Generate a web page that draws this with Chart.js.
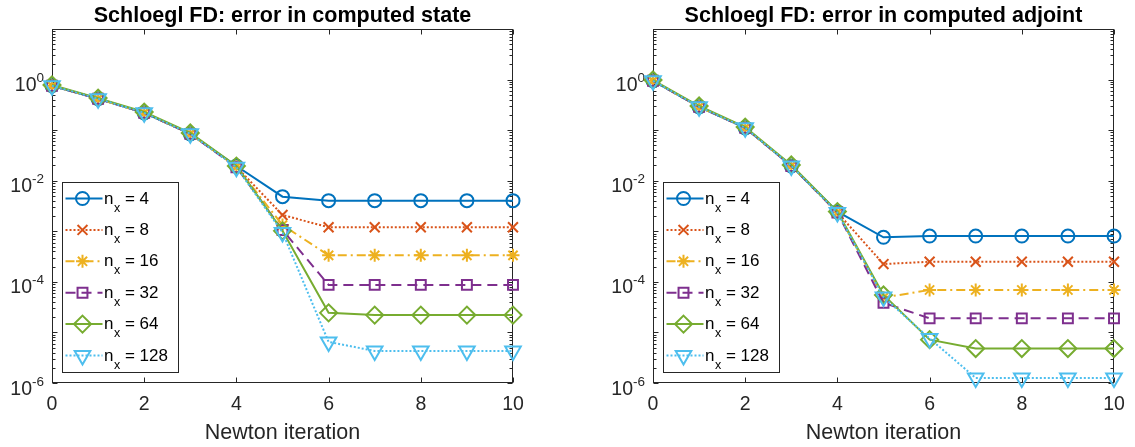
<!DOCTYPE html>
<html>
<head>
<meta charset="utf-8">
<script src="https://cdn.jsdelivr.net/npm/chart.js@4.4.1/dist/chart.umd.min.js"></script>
<style>
  body { margin: 0; background: #fff; }
  #wrap { position: relative; width: 1135px; height: 447px; }
  canvas { position: absolute; top: 0; }
  #stateChart { left: 0; }
  #adjointChart { left: 580px; }
</style>
</head>
<body>
<div id="wrap">
  <canvas id="stateChart" width="580" height="447"></canvas>
  <canvas id="adjointChart" width="555" height="447"></canvas>
</div>
<script>
const iterations = [0, 1, 2, 3, 4, 5, 6, 7, 8, 9, 10];
const gridSizes = ['4', '8', '16', '32', '64', '128'];
const xTicks = [0, 2, 4, 6, 8, 10];
const yTickExponents = [-6, -4, -2, 0];

// error in computed state, one array per n_x
const stateNx4 = [0.753, 0.417, 0.22, 0.0845, 0.0195, 0.00484, 0.00403, 0.00403, 0.00403, 0.00403, 0.00403];
const stateNx8 = [0.753, 0.417, 0.22, 0.0845, 0.0188, 0.0021, 0.0012, 0.0012, 0.0012, 0.0012, 0.0012];
const stateNx16 = [0.753, 0.417, 0.22, 0.0845, 0.0188, 0.00133, 3.34e-4, 3.34e-4, 3.34e-4, 3.34e-4, 3.34e-4];
const stateNx32 = [0.753, 0.417, 0.22, 0.0845, 0.0185, 0.00106, 8.7e-5, 8.7e-5, 8.7e-5, 8.7e-5, 8.7e-5];
const stateNx64 = [0.78, 0.43, 0.228, 0.088, 0.0195, 0.00102, 2.44e-5, 2.2e-5, 2.2e-5, 2.2e-5, 2.2e-5];
const stateNx128 = [0.753, 0.417, 0.22, 0.0845, 0.0185, 0.00095, 6.5e-6, 4.3e-6, 4.3e-6, 4.3e-6, 4.3e-6];

// error in computed adjoint
const adjointNx4 = [0.946, 0.289, 0.111, 0.0196, 0.00244, 7.6e-4, 8.05e-4, 8.05e-4, 8.05e-4, 8.05e-4, 8.05e-4];
const adjointNx8 = [0.946, 0.289, 0.111, 0.0196, 0.00235, 2.25e-4, 2.5e-4, 2.5e-4, 2.5e-4, 2.5e-4, 2.5e-4];
const adjointNx16 = [0.946, 0.289, 0.111, 0.0196, 0.00235, 4.9e-5, 6.9e-5, 6.9e-5, 6.9e-5, 6.9e-5, 6.9e-5];
const adjointNx32 = [0.946, 0.289, 0.111, 0.0196, 0.00235, 3.85e-5, 1.9e-5, 1.9e-5, 1.9e-5, 1.9e-5, 1.9e-5];
const adjointNx64 = [0.98, 0.3, 0.115, 0.0205, 0.00245, 5.5e-5, 7.2e-6, 4.8e-6, 4.8e-6, 4.8e-6, 4.8e-6];
const adjointNx128 = [0.946, 0.289, 0.111, 0.0196, 0.00235, 5.0e-5, 7.6e-6, 1.26e-6, 1.26e-6, 1.26e-6, 1.26e-6];

// MATLAB default color order and line/marker specs
const lineColors = ['#0072BD', '#D95319', '#EDB120', '#7E2F8E', '#77AC30', '#4DBEEE'];
const lineDashes = [[], [2, 2], [9, 4, 2, 4], [10, 6], [], [2, 2]];
const markerStyles = ['circle', 'crossRot', 'star', 'rect', 'rectRot', 'triangle'];
const markerRadii = [6.5, 7, 6.5, 7, 8.5, 9];
const markerRotations = [0, 0, 0, 0, 0, 180];

const FONT = '"Liberation Sans", Arial, Helvetica, sans-serif';
const AXIS_COLOR = '#262626';

function buildDatasets(series) {
  return series.map((vals, i) => ({
    label: gridSizes[i],
    data: iterations.map((it, k) => ({ x: it, y: vals[k] })),
    // later series sit on top, like MATLAB's plot order
    order: series.length - i,
    borderColor: lineColors[i],
    borderWidth: 2,
    borderDash: lineDashes[i],
    pointStyle: markerStyles[i],
    pointRadius: markerRadii[i],
    pointRotation: markerRotations[i],
    pointBorderColor: lineColors[i],
    pointBackgroundColor: 'rgba(0,0,0,0)',
    pointBorderWidth: 2,
    tension: 0,
    fill: false,
    clip: false,
  }));
}

// small marker painter for the legend rows (same shapes chart.js uses)
function drawMarker(ctx, style, x, y, r) {
  const d = r * Math.SQRT1_2;
  ctx.beginPath();
  switch (style) {
    case 'circle':
      ctx.arc(x, y, r, 0, Math.PI * 2);
      break;
    case 'crossRot':
      ctx.moveTo(x - d, y - d); ctx.lineTo(x + d, y + d);
      ctx.moveTo(x - d, y + d); ctx.lineTo(x + d, y - d);
      break;
    case 'star':
      ctx.moveTo(x - r, y); ctx.lineTo(x + r, y);
      ctx.moveTo(x, y - r); ctx.lineTo(x, y + r);
      ctx.moveTo(x - d, y - d); ctx.lineTo(x + d, y + d);
      ctx.moveTo(x - d, y + d); ctx.lineTo(x + d, y - d);
      break;
    case 'rect':
      ctx.rect(x - d, y - d, 2 * d, 2 * d);
      break;
    case 'rectRot':
      ctx.moveTo(x, y - r); ctx.lineTo(x + r, y);
      ctx.lineTo(x, y + r); ctx.lineTo(x - r, y);
      ctx.closePath();
      break;
    case 'triangle': // pointing down
      ctx.moveTo(x, y + r);
      ctx.lineTo(x - r * Math.sin(Math.PI / 3), y - r / 2);
      ctx.lineTo(x + r * Math.sin(Math.PI / 3), y - r / 2);
      ctx.closePath();
      break;
  }
  ctx.stroke();
}

const matlabAxes = {
  id: 'matlabAxes',
  beforeDatasetsDraw(chart, args, opts) {
    const { ctx, chartArea: a } = chart;
    const xs = chart.scales.x, ys = chart.scales.y;
    const L = Math.round(a.left) + 0.5, R = Math.round(a.right) - 0.5;
    const T = Math.round(a.top) + 0.5, B = Math.round(a.bottom) - 0.5;

    ctx.save();
    ctx.strokeStyle = AXIS_COLOR;
    ctx.lineWidth = 1;
    ctx.strokeRect(L, T, R - L, B - T);

    ctx.beginPath();
    xTicks.forEach(v => {
      const px = Math.round(xs.getPixelForValue(v)) + 0.5;
      ctx.moveTo(px, B); ctx.lineTo(px, B - 5);
      ctx.moveTo(px, T); ctx.lineTo(px, T + 5);
    });
    // major + minor log ticks on both sides
    for (let e = -6; e <= 1; e++) {
      for (let m = 1; m <= 9; m++) {
        const v = m * Math.pow(10, e);
        if (v > 10.0001) break;
        const py = Math.round(ys.getPixelForValue(v)) + 0.5;
        const len = m === 1 ? 5 : 3;
        ctx.moveTo(L, py); ctx.lineTo(L + len, py);
        ctx.moveTo(R, py); ctx.lineTo(R - len, py);
      }
    }
    ctx.stroke();

    ctx.fillStyle = AXIS_COLOR;
    ctx.textBaseline = 'alphabetic';

    ctx.font = '19.5px ' + FONT;
    ctx.textAlign = 'center';
    xTicks.forEach(v => {
      ctx.fillText(String(v), xs.getPixelForValue(v), a.bottom + 27);
    });

    yTickExponents.forEach(e => {
      const py = ys.getPixelForValue(Math.pow(10, e));
      const expText = String(e);
      ctx.font = '13.5px ' + FONT;
      const expW = ctx.measureText(expText).width;
      const expRight = a.left - 8;
      ctx.textAlign = 'left';
      ctx.fillText(expText, expRight - expW, py + 2.5);
      ctx.font = '19.5px ' + FONT;
      ctx.textAlign = 'right';
      ctx.fillText('10', expRight - expW, py + 11.5);
    });

    const cx = (a.left + a.right) / 2;
    ctx.textAlign = 'center';
    ctx.font = '21.5px ' + FONT;
    ctx.fillText('Newton iteration', cx, 439);

    ctx.fillStyle = '#000';
    ctx.font = 'bold 21.5px ' + FONT;
    ctx.fillText(opts.title, cx, 22);
    ctx.restore();
  },
  afterDraw(chart) {
    const { ctx, chartArea: a } = chart;
    const box = { x: Math.round(a.left) + 10.5, y: 182.5, w: 116, h: 190 };

    ctx.save();
    ctx.fillStyle = '#fff';
    ctx.fillRect(box.x, box.y, box.w, box.h);
    ctx.strokeStyle = AXIS_COLOR;
    ctx.lineWidth = 1;
    ctx.strokeRect(box.x, box.y, box.w, box.h);

    chart.data.datasets.forEach((ds, i) => {
      const rowY = 198.5 + i * 31.4;
      ctx.strokeStyle = ds.borderColor;
      ctx.lineWidth = 2;
      ctx.setLineDash(ds.borderDash);
      ctx.beginPath();
      ctx.moveTo(box.x + 3, rowY);
      ctx.lineTo(box.x + 40, rowY);
      ctx.stroke();
      ctx.setLineDash([]);
      drawMarker(ctx, ds.pointStyle, box.x + 20, rowY, ds.pointRadius);

      ctx.fillStyle = '#000';
      ctx.textAlign = 'left';
      let tx = box.x + 41.5;
      ctx.font = '17px ' + FONT;
      ctx.fillText('n', tx, rowY + 5);
      tx += ctx.measureText('n').width + 0.5;
      ctx.font = '12.5px ' + FONT;
      ctx.fillText('x', tx, rowY + 13);
      tx += ctx.measureText('x').width;
      ctx.font = '17px ' + FONT;
      ctx.fillText(' = ' + ds.label, tx, rowY + 5);
    });
    ctx.restore();
  },
};

function makeChart(canvasId, series, title, padding) {
  return new Chart(document.getElementById(canvasId), {
    type: 'line',
    data: { datasets: buildDatasets(series) },
    options: {
      responsive: false,
      animation: false,
      layout: { padding },
      plugins: {
        legend: { display: false },
        tooltip: { enabled: false },
        matlabAxes: { title },
      },
      scales: {
        x: { type: 'linear', min: 0, max: 10, display: false },
        y: { type: 'logarithmic', min: 1e-6, max: 10, display: false },
      },
    },
    plugins: [matlabAxes],
  });
}

makeChart('stateChart',
  [stateNx4, stateNx8, stateNx16, stateNx32, stateNx64, stateNx128],
  'Schloegl FD: error in computed state',
  { left: 52, top: 29, right: 67, bottom: 64 });

makeChart('adjointChart',
  [adjointNx4, adjointNx8, adjointNx16, adjointNx32, adjointNx64, adjointNx128],
  'Schloegl FD: error in computed adjoint',
  { left: 73, top: 29, right: 21, bottom: 64 });
</script>
</body>
</html>
